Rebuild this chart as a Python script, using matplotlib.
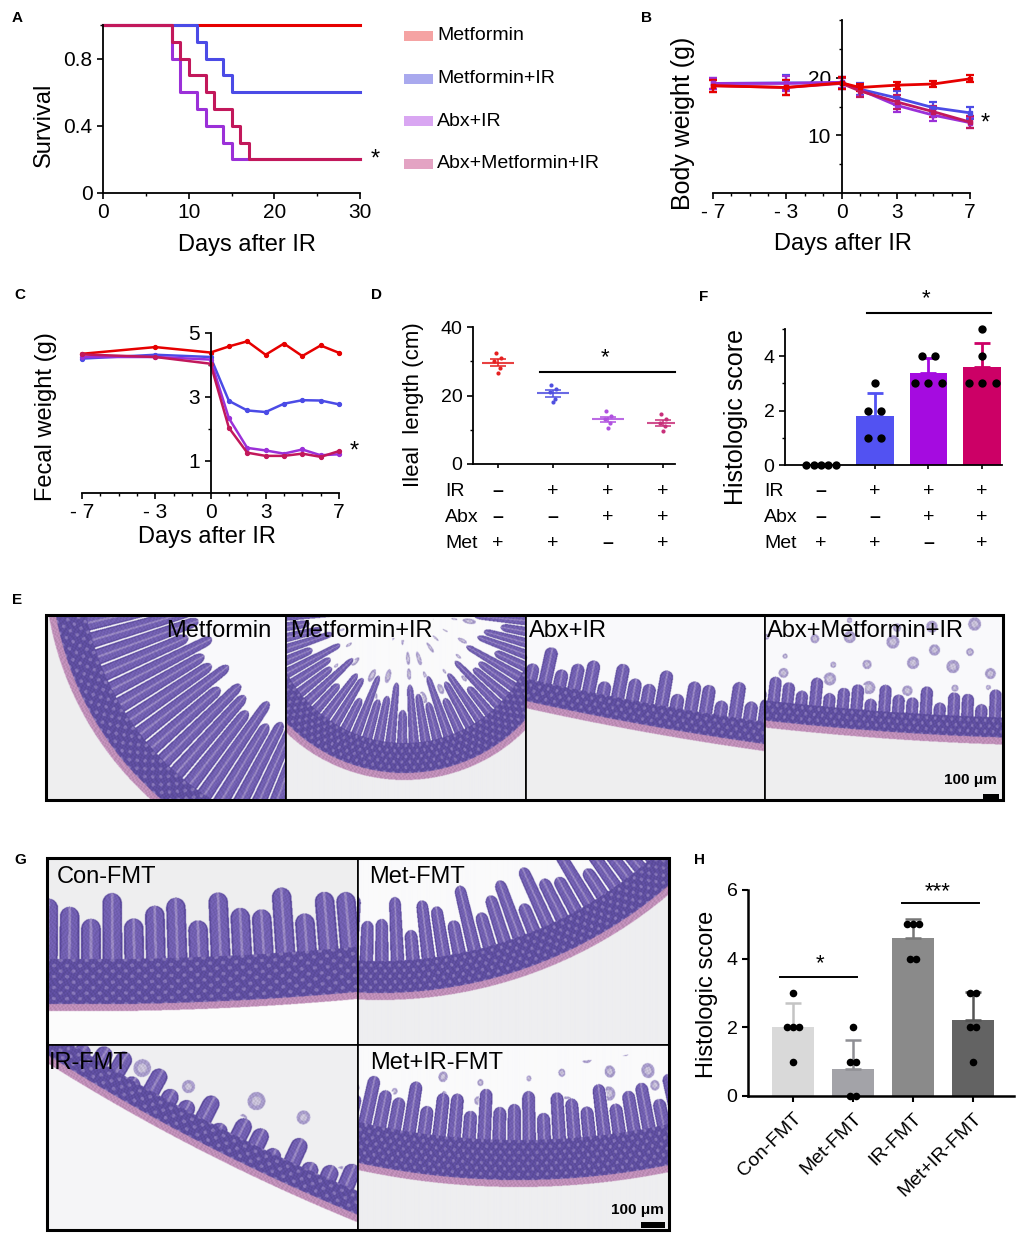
import numpy as np
import matplotlib
matplotlib.use('Agg')
import matplotlib.pyplot as plt
from matplotlib.patches import Rectangle
from matplotlib.transforms import blended_transform_factory
from matplotlib.ticker import MultipleLocator, FixedLocator

plt.rcParams['font.family'] = ['Liberation Sans', 'DejaVu Sans']
plt.rcParams['axes.linewidth'] = 1.3
plt.rcParams['xtick.major.width'] = 1.2
plt.rcParams['ytick.major.width'] = 1.2
plt.rcParams['xtick.minor.width'] = 1.0
plt.rcParams['ytick.minor.width'] = 1.0
plt.rcParams['xtick.major.size'] = 4
plt.rcParams['ytick.major.size'] = 4
plt.rcParams['xtick.minor.size'] = 2.5
plt.rcParams['ytick.minor.size'] = 2.5

# ---------------- data ----------------
groups = ['Metformin', 'Metformin+IR', 'Abx+IR', 'Abx+Metformin+IR']
line_colors = ['#e60000', '#4b4be6', '#9b30d8', '#c2185b']
legend_colors = ['#f5a3a3', '#a9a9ee', '#d9a6f2', '#e3a3c3']

# A: survival (day of each step, survival after step)
surv_days = [[0, 30],
             [0, 11, 12, 14, 15, 30],
             [0, 8, 9, 11, 12, 14, 15, 30],
             [0, 8, 9, 10, 12, 13, 15, 16, 17, 30]]
surv_vals = [[1.0, 1.0],
             [1.0, 0.9, 0.8, 0.7, 0.6, 0.6],
             [1.0, 0.8, 0.6, 0.5, 0.4, 0.3, 0.2, 0.2],
             [1.0, 0.9, 0.8, 0.7, 0.6, 0.5, 0.4, 0.3, 0.2, 0.2]]

# B: body weight
bw_days = [-7, -3, 0, 1, 3, 5, 7]
bw_met = [18.6, 18.3, 19.1, 18.3, 18.7, 18.9, 19.8]
bw_metir = [19.0, 19.1, 19.1, 18.0, 16.5, 14.8, 13.9]
bw_abxir = [19.0, 19.0, 19.2, 17.9, 15.2, 13.5, 12.2]
bw_abxmetir = [18.6, 18.3, 19.0, 17.7, 15.8, 14.1, 12.3]
bw_err_met = [1.0, 1.3, 1.0, 0.6, 0.6, 0.5, 0.6]
bw_err_ir = [1.0, 1.3, 1.0, 1.0, 1.2, 1.0, 1.0]

# C: fecal weight
fw_days = [-7, -3, 0, 1, 2, 3, 4, 5, 6, 7]
fw_met = [4.35, 4.56, 4.39, 4.58, 4.74, 4.32, 4.67, 4.28, 4.61, 4.38]
fw_metir = [4.20, 4.32, 4.25, 2.88, 2.58, 2.53, 2.79, 2.90, 2.89, 2.77]
fw_abxir = [4.25, 4.25, 4.17, 2.34, 1.41, 1.33, 1.23, 1.36, 1.18, 1.21]
fw_abxmetir = [4.33, 4.25, 4.04, 2.04, 1.26, 1.16, 1.16, 1.23, 1.13, 1.31]

# D: ileal length
ileal = [[32.5, 31.0, 30.0, 28.0, 26.5],
         [23.0, 22.0, 21.0, 19.0, 18.0],
         [15.5, 14.0, 13.0, 12.0, 10.5],
         [14.5, 13.0, 12.0, 11.0, 9.5]]
d_colors = ['#e52020', '#5050e0', '#b050e0', '#c8307a']

# F: histologic score
hist_F = [[0, 0, 0, 0, 0], [3, 2, 2, 1, 1], [4, 4, 3, 3, 3], [5, 4, 3, 3, 3]]
f_colors = ['#e60000', '#5252f2', '#a50be0', '#cc0066']

treat_rows = ['IR', 'Abx', 'Met']
treat_signs = [['–', '+', '+', '+'],
               ['–', '–', '+', '+'],
               ['+', '+', '–', '+']]

# H: FMT histologic score
H_labels = ['Con-FMT', 'Met-FMT', 'IR-FMT', 'Met+IR-FMT']
hist_H = [[3, 2, 2, 2, 1], [2, 1, 1, 0, 0], [5, 5, 5, 4, 4], [3, 3, 2, 2, 1]]
h_colors = ['#d9d9d9', '#a3a3a8', '#8a8a8a', '#636363']
h_err_colors = ['#c4c4c4', '#8f8f94', '#777777', '#555555']

E_titles = ['Metformin', 'Metformin+IR', 'Abx+IR', 'Abx+Metformin+IR']
G_titles = ['Con-FMT', 'Met-FMT', 'IR-FMT', 'Met+IR-FMT']

# ---------------- figure helpers ----------------
FW, FH = 1021, 1235
fig = plt.figure(figsize=(FW / 100, FH / 100), dpi=100)


def box(l, t, r, b):
    return fig.add_axes([l / FW, 1 - b / FH, (r - l) / FW, (b - t) / FH])


def ftext(x, y, s, **kw):
    fig.text(x / FW, 1 - y / FH, s, **kw)


def frect(l, t, r, b, **kw):
    fig.add_artist(Rectangle((l / FW, 1 - b / FH), (r - l) / FW, (b - t) / FH,
                             transform=fig.transFigure, **kw))


def letter(x, y, s):
    ftext(x, y, s, fontsize=11, fontweight='bold', ha='left', va='center')


def spread(vals, step_max, width=0.55):
    vals = np.asarray(vals, dtype=float)
    offs = np.zeros(len(vals))
    for v in np.unique(vals):
        idx = np.where(vals == v)[0]
        n = len(idx)
        step = step_max if n < 2 else min(step_max, width / (n - 1))
        offs[idx] = (np.arange(n) - (n - 1) / 2) * step
    return offs


# ---------------- A ----------------
ax = box(103, 25, 360, 193)
for d, s, c in zip(surv_days, surv_vals, line_colors):
    ax.step(d, s, where='post', color=c, lw=2.2, clip_on=False)
ax.set_xlim(0, 30)
ax.set_ylim(0, 1)
ax.set_yticks([0, 0.4, 0.8])
ax.set_yticklabels(['0', '0.4', '0.8'])
ax.yaxis.set_minor_locator(FixedLocator([1.0]))
ax.set_xticks([0, 10, 20, 30])
ax.xaxis.set_minor_locator(MultipleLocator(5))
ax.tick_params(labelsize=15)
for sp in ['top', 'right']:
    ax.spines[sp].set_visible(False)
ax.text(31.2, 0.2, '*', fontsize=17, ha='left', va='center')
ftext(44, 125, 'Survival', rotation=90, ha='center', va='center', fontsize=17)
ftext(247, 245, 'Days after IR', ha='center', va='center', fontsize=17)
letter(12, 18, 'A')
for i, (g, c) in enumerate(zip(groups, legend_colors)):
    yc = 36 + 42.5 * i
    frect(404, yc - 5, 433, yc + 5, color=c, lw=0)
    ftext(437, yc, g, fontsize=14, ha='left', va='center')

# ---------------- B ----------------
ax = box(713, 20, 970, 193)
bw_series = [bw_metir, bw_abxir, bw_abxmetir, bw_met]
bw_errs = [bw_err_ir, bw_err_ir, bw_err_ir, bw_err_met]
bw_cols = [line_colors[1], line_colors[2], line_colors[3], line_colors[0]]
for v, e, c in zip(bw_series, bw_errs, bw_cols):
    ax.errorbar(bw_days, v, yerr=e, color=c, lw=2, marker='s', ms=3.5,
                capsize=3, elinewidth=1.6, capthick=1.6, clip_on=False)
ax.set_xlim(-7, 7)
ax.set_ylim(0, 30)
ax.spines['left'].set_position(('data', 0))
for sp in ['top', 'right']:
    ax.spines[sp].set_visible(False)
ax.set_xticks([-7, -3, 0, 3, 7])
ax.set_xticklabels(['- 7', '- 3', '0', '3', '7'])
ax.xaxis.set_minor_locator(MultipleLocator(1))
ax.set_yticks([10, 20])
ax.yaxis.set_minor_locator(FixedLocator([5, 15, 25, 30]))
ax.tick_params(labelsize=15)
ax.text(7.6, 12.0, '*', fontsize=17, ha='left', va='center')
ftext(683, 123, 'Body weight (g)', rotation=90, ha='center', va='center', fontsize=18)
ftext(843, 244, 'Days after IR', ha='center', va='center', fontsize=17)
letter(641, 18, 'B')

# ---------------- C ----------------
ax = box(82, 333, 339, 493)
fw_series = [fw_met, fw_metir, fw_abxir, fw_abxmetir]
for v, c in zip(fw_series, line_colors):
    ax.plot(fw_days, v, color=c, lw=1.8, marker='o', ms=2.8, clip_on=False)
ax.set_xlim(-7, 7)
ax.set_ylim(0, 5)
ax.spines['left'].set_position(('data', 0))
for sp in ['top', 'right']:
    ax.spines[sp].set_visible(False)
ax.set_xticks([-7, -3, 0, 3, 7])
ax.set_xticklabels(['- 7', '- 3', '0', '3', '7'])
ax.xaxis.set_minor_locator(MultipleLocator(1))
ax.set_yticks([1, 3, 5])
ax.yaxis.set_minor_locator(FixedLocator([2, 4]))
ax.tick_params(labelsize=15)
ax.text(7.6, 1.3, '*', fontsize=17, ha='left', va='center')
ftext(46, 417, 'Fecal weight (g)', rotation=90, ha='center', va='center', fontsize=17)
ftext(207, 537, 'Days after IR', ha='center', va='center', fontsize=17)
letter(14, 295, 'C')

# ---------------- D ----------------
ax = box(473, 327, 675, 464)
jit = [-0.04, 0.05, -0.06, 0.04, 0.0]
for i, (vals, c) in enumerate(zip(ileal, d_colors)):
    vals = np.asarray(vals)
    m = vals.mean()
    sem = vals.std(ddof=1) / np.sqrt(len(vals))
    ax.scatter(i + np.asarray(jit), vals, s=9, color=c, zorder=3, lw=0)
    ax.hlines(m, i - 0.29, i + 0.29, color=c, lw=1.5, alpha=0.85)
    ax.vlines(i, m - sem, m + sem, color=c, lw=1.3, alpha=0.85)
    ax.hlines([m - sem, m + sem], i - 0.15, i + 0.15, color=c, lw=1.3, alpha=0.85)
ax.set_xlim(-0.45, 3.22)
ax.set_ylim(0, 40)
ax.set_yticks([0, 20, 40])
ax.yaxis.set_minor_locator(FixedLocator([10, 30]))
ax.set_xticks(range(4))
ax.set_xticklabels([])
ax.tick_params(axis='y', labelsize=14)
ax.tick_params(axis='x', length=3)
for sp in ['top', 'right']:
    ax.spines[sp].set_visible(False)
ax.plot([0.76, 3.22], [27, 27], color='black', lw=1.5, clip_on=False)
ax.text(1.95, 31, '*', fontsize=16, ha='center', va='center')
ftext(413, 405, 'Ileal  length (cm)', rotation=90, ha='center', va='center', fontsize=16)
letter(371, 295, 'D')
tr = blended_transform_factory(ax.transData, fig.transFigure)
for r, (lab, signs) in enumerate(zip(treat_rows, treat_signs)):
    yy = 1 - (492 + 25.5 * r) / FH
    fig.text(445 / FW, yy, lab, fontsize=14, ha='left', va='center')
    for i, s in enumerate(signs):
        ax.text(i, yy, s, transform=tr, fontsize=14, ha='center', va='center',
                fontweight='bold' if s == '–' else 'normal')

# ---------------- F ----------------
ax = box(785, 329, 1002, 465)
for i, (vals, c) in enumerate(zip(hist_F, f_colors)):
    vals = np.asarray(vals, dtype=float)
    m = vals.mean()
    sd = vals.std(ddof=1)
    ax.bar(i, m, width=0.7, color=c, lw=0, zorder=1)
    if sd > 0:
        ax.errorbar(i, m, yerr=[[0], [sd]], color=c, lw=2, capsize=6, capthick=2, zorder=2)
    ax.scatter(i + spread(vals, 0.25), vals, s=36, color='black', zorder=4, clip_on=False, lw=0)
ax.set_xlim(-0.67, 3.37)
ax.set_ylim(0, 5)
ax.set_yticks([0, 2, 4])
ax.yaxis.set_minor_locator(FixedLocator([1, 3, 5]))
ax.set_xticks(range(4))
ax.set_xticklabels([])
ax.tick_params(axis='y', labelsize=14)
ax.tick_params(axis='x', length=3)
for sp in ['top', 'right']:
    ax.spines[sp].set_visible(False)
ax.plot([0.86, 3.17], [5.59, 5.59], color='black', lw=1.5, clip_on=False)
ax.text(1.95, 6.1, '*', fontsize=16, ha='center', va='center')
ftext(736, 417, 'Histologic score', rotation=90, ha='center', va='center', fontsize=18)
letter(699, 297, 'F')
tr = blended_transform_factory(ax.transData, fig.transFigure)
for r, (lab, signs) in enumerate(zip(treat_rows, treat_signs)):
    yy = 1 - (492 + 25.5 * r) / FH
    fig.text(764 / FW, yy, lab, fontsize=14, ha='left', va='center')
    for i, s in enumerate(signs):
        ax.text(i, yy, s, transform=tr, fontsize=14, ha='center', va='center',
                fontweight='bold' if s == '–' else 'normal')

# ---------------- H ----------------
ax = box(748, 890, 1014, 1096)
for i, (vals, c, ec) in enumerate(zip(hist_H, h_colors, h_err_colors)):
    vals = np.asarray(vals, dtype=float)
    m = vals.mean()
    sd = vals.std(ddof=1)
    ax.bar(i, m, width=0.7, color=c, lw=0, zorder=1)
    ax.errorbar(i, m, yerr=[[0], [sd]], color=ec, lw=1.8, capsize=6, capthick=1.8, zorder=2)
    ax.scatter(i + spread(vals, 0.1), vals, s=30, color='black', zorder=4, clip_on=False, lw=0)
ax.set_xlim(-0.75, 3.68)
ax.set_ylim(0, 6)
ax.set_yticks([0, 2, 4, 6])
ax.set_xticks(range(4))
ax.set_xticklabels(H_labels, rotation=45, ha='right', va='top', rotation_mode='anchor')
ax.tick_params(labelsize=14, width=1.5)
ax.tick_params(axis='x', pad=6)
for sp in ['top', 'right']:
    ax.spines[sp].set_visible(False)
for sp in ['left', 'bottom']:
    ax.spines[sp].set_linewidth(1.8)
ax.plot([-0.22, 1.07], [3.47, 3.47], color='black', lw=1.4)
ax.text(0.45, 3.85, '*', fontsize=16, ha='center', va='center')
ax.plot([1.82, 3.1], [5.63, 5.63], color='black', lw=1.4, clip_on=False)
ax.text(2.4, 5.95, '***', fontsize=16, ha='center', va='center')
ftext(707, 994, 'Histologic score', rotation=90, ha='center', va='center', fontsize=17)
letter(694, 860, 'H')


# ---------------- histology-like panels (decorative micrograph stand-ins) ----------------
def tissue(ax, W, H, cx, cy, R, thick, crypt, period, muscle=7, var=0.2, faint=0, w0=0.44,
           lumen=(250, 250, 251), outside=(238, 238, 240)):
    Y, X = np.mgrid[0:H:0.5, 0:W:0.5]
    X = X + 0.25
    Y = Y + 0.25
    dx, dy = X - cx, Y - cy
    r = np.hypot(dx, dy)
    d = R - r
    s = R * np.arctan2(dy, dx)
    ph = s / period
    k = np.floor(ph + 0.5)
    u = np.abs(ph - k)                     # 0 at villus axis, 0.5 mid-gap
    tipv = thick * (1 - var * (0.5 + 0.5 * np.sin(k * 2.4 + 0.7)))
    rtip = w0 * period
    taper = np.clip((d - (tipv - rtip)) / rtip, 0, 1)
    halfw = w0 * np.sqrt(np.clip(1 - taper ** 2, 0, 1))
    tex = 0.9 + 0.1 * np.sin(X * 1.7 + 2 * np.sin(Y * 0.45)) * np.cos(Y * 1.5 + 1.5 * np.sin(X * 0.37))
    img = np.empty(X.shape + (3,))
    img[:] = np.array(lumen, float)
    img[d < 0] = np.array(outside, float)
    tmask = np.zeros(X.shape, bool)
    mus = (d >= 0) & (d < muscle)
    img[mus] = np.array((212, 158, 204), float)
    tmask |= mus
    cr = (d >= muscle) & (d < muscle + crypt)
    cpat = np.cos(2 * np.pi * s / (period * 0.6)) * np.cos(2 * np.pi * (d - muscle) / 11)
    ccol = np.where((cpat > 0.55)[..., None], np.array((148, 130, 204), float),
                    np.array((104, 86, 176), float))
    img[cr] = ccol[cr]
    tmask |= cr
    vil = (d >= muscle + crypt) & (d < tipv) & (u < halfw)
    edge = u > halfw - 0.08
    core = u < 0.06
    vcol = np.where(edge[..., None], np.array((98, 78, 172), float),
                    np.where(core[..., None], np.array((170, 152, 216), float),
                             np.array((126, 106, 196), float)))
    img[vil] = vcol[vil]
    tmask |= vil
    if faint > 0:
        cell = period * 1.5
        ks = np.floor(s / cell)
        kd = np.floor(d / cell)
        ls = s - (ks + 0.5 + 0.2 * np.sin(ks * 1.3 + kd)) * cell
        ld = d - (kd + 0.5 + 0.2 * np.cos(ks * 0.7 + kd * 2.1)) * cell
        rr = np.hypot(ls, ld)
        rad = cell * (0.22 + 0.1 * np.sin(ks * 2.7 + kd * 1.9))
        on = np.sin(ks * 3.1 + kd * 1.7) > 0.35
        fz = (d >= tipv) & (d < thick + faint) & on & (rr < rad)
        fcol = np.where((rr < rad * 0.5)[..., None], np.array((222, 214, 240), float),
                        np.array((185, 172, 224), float))
        img[fz] = fcol[fz]
        tmask |= fz
    img[tmask] = img[tmask] * tex[tmask][:, None]
    img = np.clip(img, 0, 255) / 255.0
    ax.imshow(img, extent=(0, W, 0, H), origin='lower', interpolation='bilinear', aspect='auto')
    ax.set_xlim(0, W)
    ax.set_ylim(0, H)
    ax.set_xticks([])
    ax.set_yticks([])
    for sp in ax.spines.values():
        sp.set_linewidth(1.2)
        sp.set_color('black')


E_boxes = [(46, 615, 286, 800), (286, 615, 526, 800), (526, 615, 765, 800), (765, 615, 1003, 800)]
E_params = [dict(cx=320, cy=240, R=322, thick=150, crypt=30, period=20, var=0.15, w0=0.45),
            dict(cx=118, cy=190, R=170, thick=100, crypt=30, period=15, var=0.3, faint=40),
            dict(cx=650.5, cy=3020.5, R=3000, thick=65, crypt=22, period=15, var=0.35, w0=0.45),
            dict(cx=332.6, cy=3054, R=3000, thick=55, crypt=20, period=14, var=0.3, faint=80)]
for (l, t, r, b), p in zip(E_boxes, E_params):
    a = box(l, t, r, b)
    tissue(a, r - l, b - t, **p)
frect(46, 615, 1003, 800, fill=False, ec='black', lw=2.2)
ftext(271, 631, E_titles[0], fontsize=17, ha='right', va='center')
ftext(290, 631, E_titles[1], fontsize=17, ha='left', va='center')
ftext(529, 631, E_titles[2], fontsize=17, ha='left', va='center')
ftext(767, 631, E_titles[3], fontsize=17, ha='left', va='center')
ftext(997, 780, '100 μm', fontsize=11, fontweight='bold', ha='right', va='center')
frect(983, 794, 999, 799, color='black', lw=0)
letter(12, 600, 'E')

G_boxes = [(47, 858, 358, 1045), (358, 858, 669, 1045), (47, 1045, 358, 1230), (358, 1045, 669, 1230)]
G_params = [dict(cx=39.7, cy=3033.8, R=3000, thick=118, crypt=45, period=22, var=0.25, w0=0.46,
                 lumen=(238, 238, 240), outside=(252, 252, 252)),
            dict(cx=22, cy=490, R=445, thick=105, crypt=32, period=17, var=0.35),
            dict(cx=1065, cy=1860, R=2000, thick=55, crypt=22, period=20, var=0.4, faint=30,
                 lumen=(240, 240, 242), outside=(246, 246, 248)),
            dict(cx=160, cy=804, R=761, thick=98, crypt=40, period=16, var=0.25, faint=25, w0=0.45)]
for (l, t, r, b), p in zip(G_boxes, G_params):
    a = box(l, t, r, b)
    tissue(a, r - l, b - t, **p)
frect(47, 858, 669, 1230, fill=False, ec='black', lw=2.2)
ftext(57, 877, G_titles[0], fontsize=17, ha='left', va='center')
ftext(369, 877, G_titles[1], fontsize=17, ha='left', va='center')
ftext(49, 1063, G_titles[2], fontsize=17, ha='left', va='center')
ftext(370, 1063, G_titles[3], fontsize=17, ha='left', va='center')
ftext(664, 1210, '100 μm', fontsize=11, fontweight='bold', ha='right', va='center')
frect(641, 1222, 665, 1228, color='black', lw=0)
letter(14, 860, 'G')

fig.savefig('out.png', dpi=100)
